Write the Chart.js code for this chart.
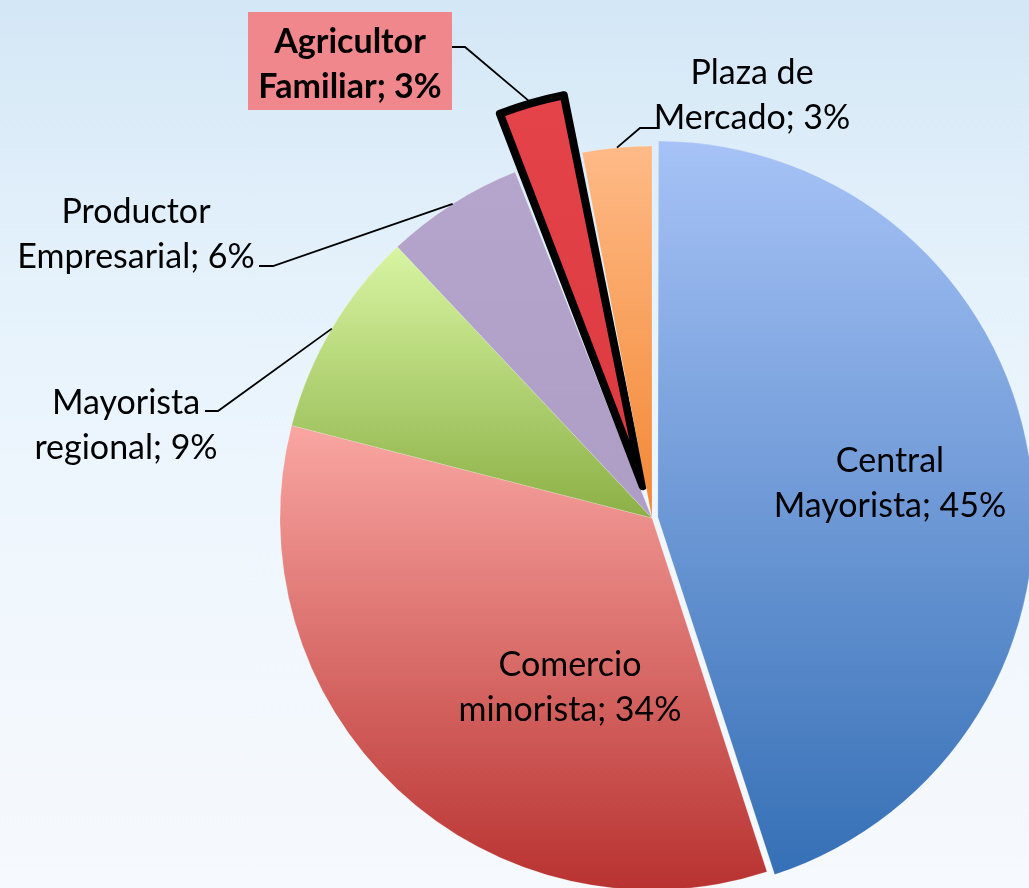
<!DOCTYPE html>
<html>
<head>
<meta charset="utf-8">
<script src="https://cdn.jsdelivr.net/npm/chart.js@4.4.1/dist/chart.umd.min.js"></script>
<style>
  html, body {
    margin: 0;
    padding: 0;
    width: 1029px;
    height: 888px;
    overflow: hidden;
    background: linear-gradient(180deg, #d4e7f6 0%, #e4f1fb 30%, #eef6fd 55%, #f6f9fd 100%);
  }
  #chart {
    position: absolute;
    left: 0;
    top: 0;
  }
</style>
</head>
<body>
<canvas id="chart" width="1029" height="888"></canvas>
<script>
// --- Data ---
const categoryLines = [
  ['Central', 'Mayorista'],
  ['Comercio', 'minorista'],
  ['Mayorista', 'regional'],
  ['Productor', 'Empresarial'],
  ['Agricultor', 'Familiar'],
  ['Plaza de', 'Mercado']
];
const shares = [45, 34, 9, 6, 3, 3];

// --- Styles ---
const sliceColors = [ // [top, bottom] of each slice's gradient
  ['#a6c2f6', '#3670b6'],
  ['#f9a6a2', '#b83230'],
  ['#d8f5a2', '#8cb046'],
  ['#b5a4cc', '#ae9dc5'],
  ['#e5444b', '#dd3b41'],
  ['#feba87', '#f38733']
];
const sliceShift = [10, 0, 0, 0, 60, 0]; // how far each slice is pulled out, px

// label placement: text centre + optional leader (start x/y, elbow x)
const labelLayout = [
  { x: 890, y: 461, inside: true },
  { x: 570, y: 665, inside: true },
  { x: 126, y: 403, lead: [205, 411, 218] },
  { x: 136, y: 212, lead: [259, 266, 273] },
  { x: 350, y: 42, lead: [452, 47, 465], box: [248, 12, 204, 98], bold: true },
  { x: 752, y: 73, lead: [657, 128, 640] }
];

const FONT = 'Lato, "Open Sans", sans-serif';
const LINE_GAP = 45;

// Chart.js moves an arc by offset/4 * (2 - sin(circ)); invert that to get a pixel shift
function offsetFor(i) {
  const circ = shares[i] / shares.reduce((a, b) => a + b, 0) * Math.PI * 2;
  const k = (2 - Math.sin(Math.min(Math.PI, circ))) / 4;
  return sliceShift[i] / k;
}

function arcShift(arc) {
  const k = (2 - Math.sin(Math.min(Math.PI, arc.circumference))) / 4;
  const mid = (arc.startAngle + arc.endAngle) / 2;
  const d = (arc.options.offset || 0) * k;
  return { dx: Math.cos(mid) * d, dy: Math.sin(mid) * d, mid };
}

function sliceGradient(ctx) {
  const arc = ctx.element;
  const cols = sliceColors[ctx.dataIndex];
  if (!arc || !arc.outerRadius) return cols[1];
  const k = (2 - Math.sin(Math.min(Math.PI, arc.circumference))) / 4;
  const mid = (arc.startAngle + arc.endAngle) / 2;
  const d = offsetFor(ctx.dataIndex) * k;
  const cx = arc.x + Math.cos(mid) * d;
  const cy = arc.y + Math.sin(mid) * d;
  let minY = cy, maxY = cy;
  for (let t = 0; t <= 60; t++) {
    const a = arc.startAngle + (arc.endAngle - arc.startAngle) * t / 60;
    const y = cy + Math.sin(a) * arc.outerRadius;
    minY = Math.min(minY, y);
    maxY = Math.max(maxY, y);
  }
  const g = ctx.chart.ctx.createLinearGradient(0, minY, 0, maxY);
  g.addColorStop(0, cols[0]);
  g.addColorStop(1, cols[1]);
  return g;
}

// Draws the data labels and leader lines
const labelPlugin = {
  id: 'sliceLabels',
  afterDatasetsDraw(chart) {
    const ctx = chart.ctx;
    const meta = chart.getDatasetMeta(0);
    ctx.save();
    meta.data.forEach((arc, i) => {
      const lay = labelLayout[i];
      const lines = [categoryLines[i][0], categoryLines[i][1] + '; ' + shares[i] + '%'];

      if (lay.box) {
        ctx.fillStyle = '#f0878c';
        ctx.fillRect(lay.box[0], lay.box[1], lay.box[2], lay.box[3]);
      }

      if (lay.lead) {
        const s = arcShift(arc);
        const ex = arc.x + s.dx + Math.cos(s.mid) * arc.outerRadius;
        const ey = arc.y + s.dy + Math.sin(s.mid) * arc.outerRadius;
        ctx.beginPath();
        ctx.moveTo(lay.lead[0], lay.lead[1]);
        ctx.lineTo(lay.lead[2], lay.lead[1]);
        ctx.lineTo(ex, ey);
        ctx.strokeStyle = '#000';
        ctx.lineWidth = 1.8;
        ctx.stroke();
      }

      ctx.fillStyle = '#000';
      ctx.font = (lay.bold ? 'bold ' : '') + '34px ' + FONT;
      ctx.textAlign = 'center';
      ctx.textBaseline = 'middle';
      lines.forEach((txt, j) => ctx.fillText(txt, lay.x, lay.y + j * LINE_GAP));
    });
    ctx.restore();
  }
};

const chart = new Chart(document.getElementById('chart'), {
  type: 'pie',
  data: {
    labels: categoryLines.map(l => l.join(' ')),
    datasets: [{
      data: shares,
      backgroundColor: sliceGradient,
      borderColor: ['rgba(255,255,255,0.35)', 'rgba(255,255,255,0.35)', 'rgba(255,255,255,0.35)',
                    'rgba(255,255,255,0.35)', '#000000', 'rgba(255,255,255,0.35)'],
      borderWidth: [0.5, 0.5, 0.5, 0.5, 8, 0.5],
      borderJoinStyle: 'round',
      offset: shares.map((v, i) => offsetFor(i)),
      radius: 372
    }]
  },
  options: {
    responsive: false,
    animation: false,
    layout: { padding: { left: 275, right: 0, top: 148, bottom: 0 } },
    plugins: {
      legend: { display: false },
      tooltip: { enabled: false }
    }
  },
  plugins: [labelPlugin]
});

// second pass so the gradients know each slice's position
chart.update('none');
</script>
</body>
</html>
